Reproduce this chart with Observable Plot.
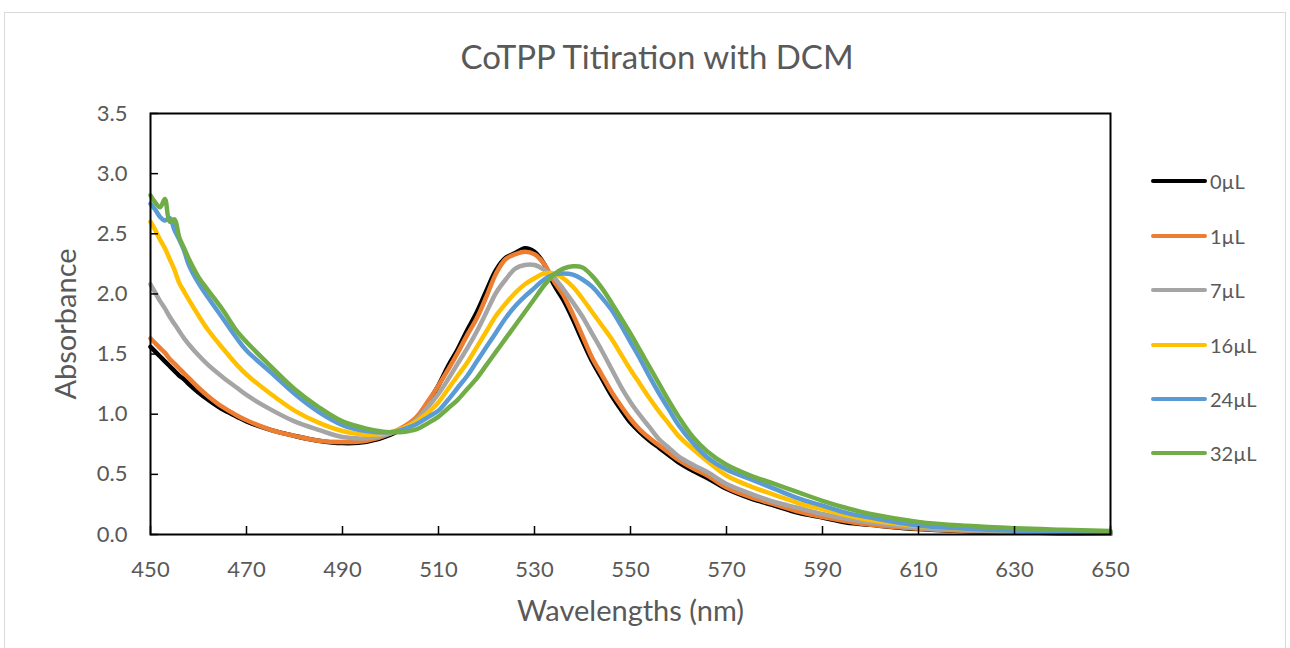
<!DOCTYPE html>
<html><head><meta charset="utf-8">
<script src="https://cdn.jsdelivr.net/npm/d3@7"></script>
<script src="https://cdn.jsdelivr.net/npm/@observablehq/plot@0.6"></script>
<style>
body{margin:0;background:#fff;font-family:Lato,"Open Sans",sans-serif;}
#wrap{position:relative;width:1290px;height:648px;overflow:hidden;background:#fff;}
#border{position:absolute;left:4px;top:12px;width:1280px;height:660px;border:1px solid #d9d9d9;}
#title{position:absolute;top:36px;left:0;width:1314px;text-align:center;font-size:33px;color:#595959;}
#chart{position:absolute;left:0;top:0;}
#legend{position:absolute;left:1151px;top:0;}
.item{position:absolute;left:0;display:flex;align-items:center;height:24px;white-space:nowrap;}
.swatch{width:56px;height:4.5px;border-radius:2.5px;}
.lab{margin-left:3px;font-size:20px;color:#595959;}
</style></head>
<body>
<div id="wrap">
  <div id="border"></div>
  <div id="chart"></div>
  <div id="title">CoTPP Titiration with DCM</div>
  <div id="legend"></div>
</div>
<script>
const wavelengths = [450,451,452,453,454,455,456,457,458,460,462,465,468,470,475,480,485,490,495,500,505,508,510,512,514,516,518,520,522,524,526,528,530,532,534,536,538,540,542,544,546,548,550,552,554,556,558,560,563,566,570,575,580,585,590,595,600,610,620,630,640,650];

const abs0uL = [1.56,1.52,1.48,1.44,1.40,1.36,1.32,1.29,1.25,1.18,1.12,1.04,0.98,0.94,0.87,0.82,0.78,0.76,0.77,0.83,0.95,1.11,1.24,1.40,1.54,1.70,1.85,2.03,2.20,2.30,2.34,2.38,2.35,2.25,2.08,1.95,1.79,1.61,1.44,1.30,1.16,1.04,0.93,0.85,0.78,0.72,0.66,0.60,0.53,0.47,0.38,0.30,0.24,0.18,0.14,0.10,0.08,0.045,0.028,0.018,0.010,0.006];
const abs1uL = [1.63,1.59,1.55,1.51,1.46,1.42,1.38,1.34,1.30,1.22,1.15,1.06,0.99,0.95,0.87,0.82,0.78,0.77,0.78,0.84,0.96,1.12,1.24,1.37,1.51,1.66,1.80,1.98,2.17,2.29,2.33,2.35,2.33,2.25,2.11,1.99,1.83,1.65,1.47,1.33,1.19,1.07,0.96,0.87,0.80,0.74,0.68,0.62,0.55,0.49,0.39,0.31,0.25,0.19,0.145,0.11,0.08,0.047,0.030,0.020,0.012,0.008];
const abs7uL = [2.08,2.01,1.94,1.88,1.81,1.75,1.69,1.63,1.58,1.49,1.41,1.31,1.22,1.16,1.04,0.94,0.87,0.81,0.80,0.84,0.94,1.07,1.17,1.29,1.42,1.55,1.69,1.85,2.01,2.12,2.21,2.24,2.24,2.20,2.14,2.04,1.93,1.81,1.67,1.53,1.38,1.23,1.10,0.99,0.89,0.79,0.72,0.65,0.58,0.52,0.42,0.34,0.27,0.22,0.17,0.13,0.10,0.055,0.035,0.022,0.013,0.007];
const abs16uL = [2.60,2.53,2.45,2.38,2.29,2.20,2.09,2.02,1.95,1.82,1.70,1.55,1.41,1.33,1.17,1.03,0.93,0.86,0.83,0.85,0.93,1.02,1.10,1.21,1.32,1.43,1.56,1.69,1.82,1.92,2.01,2.08,2.13,2.17,2.17,2.13,2.06,1.96,1.85,1.74,1.63,1.50,1.37,1.25,1.13,1.02,0.92,0.82,0.71,0.61,0.49,0.40,0.33,0.26,0.21,0.16,0.12,0.07,0.045,0.030,0.020,0.012];
const abs24uL = [2.75,2.70,2.64,2.61,2.63,2.53,2.45,2.36,2.24,2.09,1.97,1.80,1.63,1.53,1.35,1.17,1.02,0.91,0.86,0.85,0.91,0.98,1.03,1.12,1.22,1.32,1.44,1.56,1.68,1.80,1.90,1.98,2.05,2.12,2.16,2.17,2.16,2.12,2.06,1.97,1.87,1.74,1.60,1.46,1.31,1.17,1.04,0.91,0.76,0.64,0.54,0.46,0.38,0.30,0.24,0.18,0.14,0.075,0.048,0.032,0.022,0.014];
const abs32uL = [2.82,2.76,2.72,2.79,2.60,2.62,2.47,2.38,2.29,2.14,2.03,1.87,1.69,1.60,1.40,1.21,1.06,0.94,0.88,0.85,0.87,0.93,0.98,1.05,1.12,1.21,1.30,1.41,1.52,1.63,1.74,1.85,1.96,2.07,2.16,2.21,2.23,2.22,2.15,2.05,1.93,1.80,1.67,1.53,1.39,1.25,1.11,0.98,0.81,0.69,0.58,0.49,0.42,0.35,0.28,0.22,0.17,0.105,0.072,0.052,0.040,0.030];

const seriesLabels = ["0µL","1µL","7µL","16µL","24µL","32µL"];
const seriesColors = ["#000000","#ED7D31","#A5A5A5","#FFC000","#5B9BD5","#70AD47"];
const seriesValues = [abs0uL, abs1uL, abs7uL, abs16uL, abs24uL, abs32uL];

const xTicks = [450,470,490,510,530,550,570,590,610,630,650];
const yTicks = [0,0.5,1.0,1.5,2.0,2.5,3.0,3.5];
const xTitle = "Wavelengths (nm)";
const yTitle = "Absorbance";

const rows = [];
seriesValues.forEach((vals, i) => {
  vals.forEach((v, j) => rows.push({series: seriesLabels[i], wl: wavelengths[j], v}));
});

const W = 1290, H = 648, mL = 150, mR = 180, mT = 113, mB = 114;
const frameW = W - mL - mR, frameH = H - mT - mB;
const textColor = "#595959";

const chart = Plot.plot({
  width: W, height: H,
  marginLeft: mL, marginRight: mR, marginTop: mT, marginBottom: mB,
  style: {fontFamily: "Lato, 'Open Sans', sans-serif", fontSize: "22px", color: textColor, background: "transparent", overflow: "visible"},
  x: {domain: [450, 650]},
  y: {domain: [0, 3.5]},
  color: {domain: seriesLabels, range: seriesColors},
  marks: [
    Plot.line(rows, {x: "wl", y: "v", z: "series", stroke: "series", strokeWidth: 4.5, curve: "catmull-rom", strokeLinejoin: "round", strokeLinecap: "round"}),
    Plot.frame({stroke: "black", strokeWidth: 2}),
    Plot.tickX(xTicks, {x: d => d, stroke: "black", strokeWidth: 1.5, insetTop: frameH - 8}),
    Plot.tickY(yTicks, {y: d => d, stroke: "black", strokeWidth: 1.5, insetRight: frameW - 8}),
    Plot.axisX(xTicks, {tickSize: 0, tickPadding: 27, label: null, tickFormat: d => String(d), fill: textColor}),
    Plot.axisY(yTicks, {tickSize: 0, tickPadding: 23, label: null, tickFormat: d3.format(".1f"), fill: textColor}),
    Plot.text([xTitle], {text: d => d, frameAnchor: "bottom", dy: 86, fontSize: 29, fill: textColor}),
    Plot.text([yTitle], {text: d => d, frameAnchor: "left", textAnchor: "middle", dx: -84, rotate: -90, fontSize: 29, fill: textColor})
  ]
});
document.getElementById("chart").appendChild(chart);

const legendTops = [181, 236, 290, 345, 399, 453];
const legend = document.getElementById("legend");
seriesLabels.forEach((lab, i) => {
  const item = document.createElement("div");
  item.className = "item";
  item.style.top = (legendTops[i] - 12) + "px";
  const sw = document.createElement("div");
  sw.className = "swatch";
  sw.style.background = seriesColors[i];
  const tx = document.createElement("span");
  tx.className = "lab";
  tx.textContent = lab;
  item.appendChild(sw); item.appendChild(tx);
  legend.appendChild(item);
});
</script>
</body></html>
